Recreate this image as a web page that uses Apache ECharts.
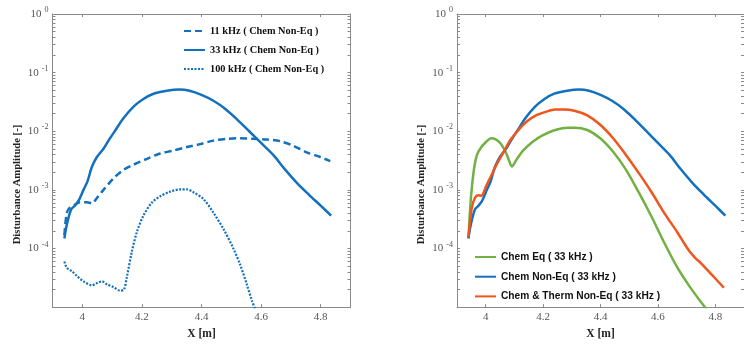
<!DOCTYPE html>
<html>
<head>
<meta charset="utf-8">
<script src="https://cdn.jsdelivr.net/npm/echarts@6/dist/echarts.min.js"></script>
<style>
  html, body { margin: 0; padding: 0; background: #fff; }
  #chart { width: 744px; height: 345px; }
</style>
</head>
<body>
<div id="chart"></div>
<script>
// x positions [m] and disturbance amplitudes

// left panel: Chem Non-Eq at three frequencies
const x11 = [3.94, 3.948, 3.959, 3.976, 3.993, 4.015, 4.032, 4.049, 4.071, 4.105, 4.138, 4.172, 4.217, 4.261, 4.306, 4.351, 4.396, 4.44, 4.485, 4.53, 4.574, 4.619, 4.664, 4.709, 4.753, 4.798, 4.832]
const y11 = [1.70e-4, 4.07e-4, 5.01e-4, 5.62e-4, 6.17e-4, 6.17e-4, 5.89e-4, 7.24e-4, 1.0e-3, 1.58e-3, 2.19e-3, 2.69e-3, 3.39e-3, 4.17e-3, 4.68e-3, 5.37e-3, 6.03e-3, 6.92e-3, 7.41e-3, 7.59e-3, 7.41e-3, 7.24e-3, 6.76e-3, 5.62e-3, 4.37e-3, 3.63e-3, 3.09e-3]

const x33 = [3.94, 3.945, 3.954, 3.963, 3.973, 3.987, 4.004, 4.017, 4.032, 4.049, 4.071, 4.088, 4.11, 4.138, 4.172, 4.205, 4.239, 4.284, 4.325, 4.36, 4.40, 4.44, 4.48, 4.52, 4.56, 4.60, 4.64, 4.68, 4.72, 4.76, 4.80, 4.835]
const y33 = [1.48e-4, 2.14e-4, 3.39e-4, 4.68e-4, 5.25e-4, 6.46e-4, 1.0e-3, 1.38e-3, 2.45e-3, 3.63e-3, 5.01e-3, 6.92e-3, 1.02e-2, 1.66e-2, 2.63e-2, 3.55e-2, 4.37e-2, 4.90e-2, 5.13e-2, 4.90e-2, 4.17e-2, 3.31e-2, 2.40e-2, 1.58e-2, 1.0e-2, 6.31e-3, 3.98e-3, 2.24e-3, 1.32e-3, 8.32e-4, 5.37e-4, 3.63e-4]

const x100 = [3.94, 3.948, 3.965, 3.982, 4.004, 4.032, 4.049, 4.066, 4.082, 4.105, 4.127, 4.14, 4.149, 4.166, 4.183, 4.205, 4.233, 4.261, 4.295, 4.328, 4.351, 4.373, 4.407, 4.44, 4.474, 4.507, 4.53, 4.552, 4.569, 4.58]
const y100 = [6.0e-5, 4.7e-5, 4.1e-5, 3.4e-5, 2.75e-5, 2.35e-5, 2.57e-5, 2.75e-5, 2.45e-5, 2.19e-5, 1.91e-5, 2.0e-5, 3.16e-5, 8.7e-5, 1.9e-4, 3.63e-4, 6.03e-4, 7.76e-4, 9.33e-4, 1.02e-3, 1.02e-3, 9.12e-4, 6.92e-4, 4.07e-4, 2.14e-4, 1.0e-4, 5.25e-5, 2.45e-5, 1.29e-5, 9.3e-6]

// right panel: 33 kHz with different gas models (Chem Non-Eq reuses x33 / y33)
const xEq = [3.94, 3.946, 3.952, 3.96, 3.97, 3.985, 4.002, 4.019, 4.035, 4.052, 4.069, 4.08, 4.091, 4.108, 4.13, 4.164, 4.198, 4.242, 4.287, 4.309, 4.354, 4.399, 4.444, 4.488, 4.533, 4.578, 4.623, 4.667, 4.712, 4.762, 4.78]
const yEq = [1.51e-4, 5.0e-4, 1.12e-3, 2.4e-3, 3.98e-3, 5.37e-3, 6.61e-3, 7.59e-3, 7.24e-3, 6.17e-3, 4.47e-3, 3.31e-3, 2.51e-3, 3.31e-3, 4.68e-3, 6.61e-3, 8.51e-3, 1.05e-2, 1.15e-2, 1.15e-2, 1.05e-2, 7.59e-3, 4.47e-3, 2.24e-3, 9.12e-4, 3.47e-4, 1.23e-4, 4.79e-5, 2.19e-5, 1.02e-5, 8.0e-6]

const xTherm = [3.94, 3.951, 3.963, 3.974, 3.985, 4.002, 4.019, 4.041, 4.063, 4.086, 4.114, 4.142, 4.175, 4.209, 4.242, 4.27, 4.309, 4.354, 4.399, 4.444, 4.488, 4.533, 4.578, 4.623, 4.667, 4.69, 4.712, 4.734, 4.748, 4.79, 4.83]
const yTherm = [1.55e-4, 4.79e-4, 7.41e-4, 8.13e-4, 7.94e-4, 1.17e-3, 1.74e-3, 2.88e-3, 4.47e-3, 7.08e-3, 1.05e-2, 1.45e-2, 1.86e-2, 2.14e-2, 2.34e-2, 2.34e-2, 2.24e-2, 1.86e-2, 1.29e-2, 7.59e-3, 3.98e-3, 1.95e-3, 9.12e-4, 3.98e-4, 1.91e-4, 1.26e-4, 8.7e-5, 6.6e-5, 5.75e-5, 3.47e-5, 2.14e-5]

const leftNames = ['11 kHz ( Chem Non-Eq )', '33 kHz ( Chem Non-Eq )', '100 kHz ( Chem Non-Eq )']
const rightNames = ['Chem Eq ( 33 kHz )', 'Chem Non-Eq ( 33 kHz )', 'Chem & Therm Non-Eq ( 33 kHz )']

const xTicks = [4, 4.2, 4.4, 4.6, 4.8]
const yLabelTicks = [1e-4, 1e-3, 1e-2, 1e-1, 1]

// log minor ticks 2..9 per decade
const yTicks = []
for (let e = -5; e < 0; e++) {
  for (let m = 1; m < 10; m++) yTicks.push(+(m * Math.pow(10, e)).toPrecision(3))
}
yTicks.push(1)

const axisGray = '#8a8a8a'
const labelGray = '#555'
const serif = '"Liberation Serif", "Times New Roman", serif'
const sans = '"Liberation Sans", Arial, sans-serif'
const blue = '#1270BE'

const zip = (xs, ys) => xs.map((x, i) => [x, ys[i]])

const nameStyle = { fontFamily: serif, fontWeight: 'bold', fontSize: 11.5, color: '#222' }

const makeX = (g) => [
  {
    type: 'value', gridIndex: g, position: 'bottom', min: 3.9, max: 4.9,
    axisLine: { onZero: false, lineStyle: { color: axisGray, width: 1 } },
    axisTick: { inside: true, length: 3, customValues: xTicks, lineStyle: { color: axisGray } },
    axisLabel: {
      customValues: xTicks, margin: 5, color: labelGray, fontFamily: serif, fontSize: 11,
      formatter: v => String(+(+v).toFixed(1))
    },
    splitLine: { show: false },
    name: 'X [m]', nameLocation: 'middle', nameGap: 19, nameTextStyle: nameStyle
  },
  {
    type: 'value', gridIndex: g, position: 'top', min: 3.9, max: 4.9,
    axisLine: { onZero: false, lineStyle: { color: axisGray, width: 1 } },
    axisTick: { inside: true, length: 3, customValues: xTicks, lineStyle: { color: axisGray } },
    axisLabel: { show: false },
    splitLine: { show: false }
  }
]

const makeY = (g) => [
  {
    type: 'log', logBase: 10, gridIndex: g, position: 'left', min: 1e-5, max: 1,
    axisLine: { onZero: false, lineStyle: { color: axisGray, width: 1 } },
    axisTick: { inside: true, length: 3, customValues: yTicks, lineStyle: { color: axisGray } },
    axisLabel: {
      customValues: yLabelTicks, margin: 4, color: labelGray, fontFamily: serif, fontSize: 11,
      formatter: v => '10{s|' + Math.round(Math.log10(v)) + '}',
      rich: {
        s: { fontSize: 8, fontFamily: serif, color: labelGray, padding: [0, 0, 8, 3] }
      }
    },
    splitLine: { show: false },
    name: 'Disturbance Amplitude [-]', nameLocation: 'middle', nameGap: 30,
    nameTextStyle: Object.assign({}, nameStyle, { fontSize: 10.6, padding: [0, 48, 0, 0] })
  },
  {
    type: 'log', logBase: 10, gridIndex: g, position: 'right', min: 1e-5, max: 1,
    axisLine: { onZero: false, lineStyle: { color: axisGray, width: 1 } },
    axisTick: { inside: true, length: 3, customValues: yTicks, lineStyle: { color: axisGray } },
    axisLabel: { show: false },
    splitLine: { show: false }
  }
]

const line = (name, data, color, ax, type, width) => ({
  name, type: 'line', data, xAxisIndex: ax, yAxisIndex: ax,
  showSymbol: false, symbol: 'none', smooth: 0.3, clip: true,
  lineStyle: { color, width, type }, itemStyle: { color }
})

const chart = echarts.init(document.getElementById('chart'), null, { renderer: 'canvas' })

const option = {
  animation: false,
  backgroundColor: '#fff',
  grid: [
    { left: 52.5, top: 14, width: 298, height: 299 },
    { left: 457, top: 14, width: 298, height: 299 }
  ],
  xAxis: [...makeX(0), ...makeX(1)],
  yAxis: [...makeY(0), ...makeY(1)],
  legend: [
    {
      data: leftNames, orient: 'vertical', left: 178, top: 20,
      itemWidth: 21, itemHeight: 12, itemGap: 7, itemStyle: { opacity: 0 },
      textStyle: { fontFamily: serif, fontWeight: 'bold', fontSize: 10.3, color: '#111', lineHeight: 12 }
    },
    {
      data: rightNames, orient: 'vertical', left: 469, top: 246,
      itemWidth: 21, itemHeight: 12, itemGap: 7.7, itemStyle: { opacity: 0 },
      textStyle: { fontFamily: sans, fontWeight: 'bold', fontSize: 10.2, color: '#111', lineHeight: 12 }
    }
  ],
  series: [
    line(leftNames[0], zip(x11, y11), blue, 0, [7, 4], 2.5),
    line(leftNames[1], zip(x33, y33), blue, 0, 'solid', 2.5),
    line(leftNames[2], zip(x100, y100), blue, 0, [2, 1.5], 2.2),
    line(rightNames[0], zip(xEq, yEq), '#72B043', 2, 'solid', 2.5),
    line(rightNames[1], zip(x33, y33), blue, 2, 'solid', 2.5),
    line(rightNames[2], zip(xTherm, yTherm), '#F0561C', 2, 'solid', 2.5)
  ]
}

chart.setOption(option)
</script>
</body>
</html>
